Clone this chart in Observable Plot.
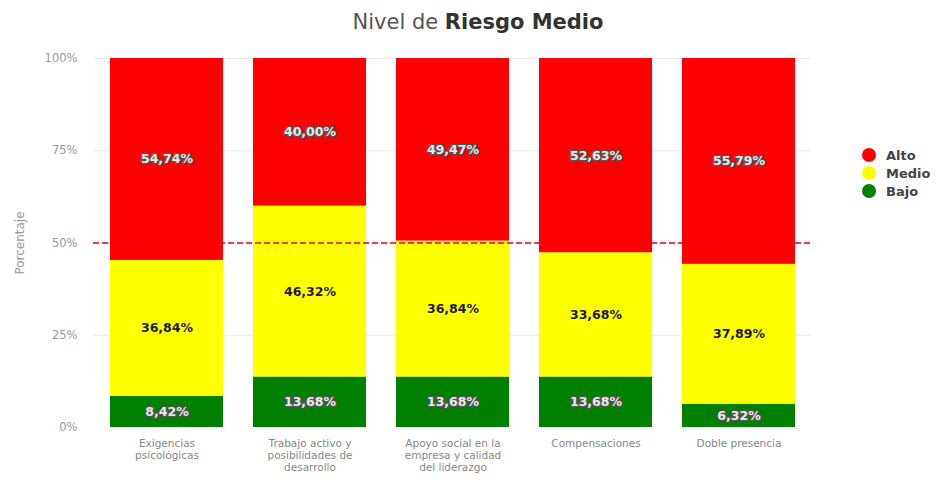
<!DOCTYPE html>
<html>
<head>
<meta charset="utf-8">
<script src="https://cdn.jsdelivr.net/npm/d3@7"></script>
<script src="https://cdn.jsdelivr.net/npm/@observablehq/plot@0.6"></script>
<style>
  body { margin: 0; background: #fff; font-family: "DejaVu Sans", sans-serif; }
  #wrap { position: relative; width: 940px; height: 484px; }
  #title { height: 40px; line-height: 44px; text-align: center; font-size: 21px; color: #555; padding-left: 16px; box-sizing: border-box; }
  #title b { color: #333; }
  #legend { position: absolute; left: 862px; top: 146px; font-size: 13px; font-weight: bold; color: #444; }
  #legend div { display: flex; align-items: center; height: 18px; }
  #legend span.dot { width: 14px; height: 14px; border-radius: 50%; display: inline-block; margin-right: 10px; }
</style>
</head>
<body>
<div id="wrap">
  <div id="title">Nivel de <b>Riesgo Medio</b></div>
  <div id="chart"></div>
  <div id="legend"></div>
</div>
<script>
const categories = ["Exigencias psicológicas", "Trabajo activo y posibilidades de desarrollo", "Apoyo social en la empresa y calidad del liderazgo", "Compensaciones", "Doble presencia"];
const categoryLabels = ["Exigencias\npsicológicas", "Trabajo activo y\nposibilidades de\ndesarrollo", "Apoyo social en la\nempresa y calidad\ndel liderazgo", "Compensaciones", "Doble presencia"];
const levels = ["Bajo", "Medio", "Alto"];
const bajo = [8.42, 13.68, 13.68, 13.68, 6.32];
const medio = [36.84, 46.32, 36.84, 33.68, 37.89];
const alto = [54.74, 40.00, 49.47, 52.63, 55.79];
const levelColors = ["#008000", "#ffff00", "#ff0000"];
const legendOrder = ["Alto", "Medio", "Bajo"];

const series = {Bajo: bajo, Medio: medio, Alto: alto};
const data = [];
categories.forEach((c, i) => {
  levels.forEach(l => data.push({cat: c, level: l, value: series[l][i]}));
});
const fmt = v => v.toFixed(2).replace(".", ",") + "%";
const labelOf = Object.fromEntries(categories.map((c, i) => [c, categoryLabels[i]]));

const chart = Plot.plot({
  width: 940,
  height: 444,
  marginTop: 18,
  marginBottom: 57,
  marginLeft: 93,
  marginRight: 129,
  style: {fontFamily: "DejaVu Sans, sans-serif"},
  x: {domain: categories, paddingInner: 0.21, paddingOuter: 0.1, label: null},
  y: {domain: [0, 100], label: null},
  color: {domain: levels, range: levelColors},
  marks: [
    Plot.gridY([25, 50, 75, 100], {stroke: "#e8e8e8", strokeOpacity: 1}),
    Plot.barY(data, Plot.stackY({x: "cat", y: "value", fill: "level", z: "level"})),
    Plot.ruleY([50], {stroke: "#e8001c", strokeWidth: 1.5, strokeDasharray: "6,3"}),
    Plot.text(data, Plot.stackY({
      x: "cat", y: "value", z: "level",
      text: d => d.level !== "Medio" ? fmt(d.value) : "",
      fill: "#e8e8e8", stroke: "#555", strokeWidth: 2.5,
      fontSize: 12.5, fontWeight: "bold"
    })),
    Plot.text(data, Plot.stackY({
      x: "cat", y: "value", z: "level",
      text: d => d.level === "Medio" ? fmt(d.value) : "",
      fill: "#1a1a3a", fontSize: 12.5, fontWeight: "bold"
    })),
    Plot.axisY({ticks: [0, 25, 50, 75, 100], tickFormat: d => d + "%", tickSize: 0, tickPadding: 16, fontSize: 11.5, color: "#999"}),
    Plot.text(["Porcentaje"], {frameAnchor: "left", textAnchor: "middle", dx: -73, rotate: -90, fontSize: 12, fill: "#999"}),
    Plot.axisX({tickFormat: d => labelOf[d], tickSize: 0, tickPadding: 11, fontSize: 10.5, color: "#888", lineHeight: 1.15})
  ]
});
document.getElementById("chart").appendChild(chart);

const legend = document.getElementById("legend");
legendOrder.forEach(l => {
  const row = document.createElement("div");
  const dot = document.createElement("span");
  dot.className = "dot";
  dot.style.background = levelColors[levels.indexOf(l)];
  row.appendChild(dot);
  row.appendChild(document.createTextNode(l));
  legend.appendChild(row);
});
</script>
</body>
</html>
